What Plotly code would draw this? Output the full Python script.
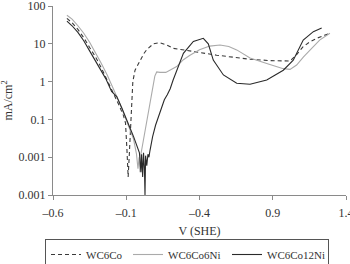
import plotly.graph_objects as go

# WC6Co (dashed)
v_co = [-0.505, -0.47, -0.43, -0.39, -0.35, -0.31, -0.27, -0.23, -0.19, -0.15, -0.12, -0.105,
        -0.095, -0.087, -0.08, -0.072, -0.065, -0.055, -0.04, -0.02, -0.006, 0.02, 0.04, 0.085,
        0.13, 0.176, 0.22, 0.29, 0.40, 0.517, 0.63, 0.745, 0.88, 1.018, 1.06, 1.106, 1.15, 1.2, 1.29]
i_co = [47, 36, 24, 14.5, 8, 4.5, 2.3, 1.1, 0.5, 0.24, 0.13, 0.08,
        0.015, 0.003, 0.01, 0.06, 0.3, 1.0, 2.0, 2.8, 3.7, 5.5, 7.0, 10.0,
        10.7, 9.3, 7.6, 6.8, 5.9, 5.0, 4.4, 3.9, 3.6, 3.5, 5.0, 8.3, 11, 14, 19]

# WC6Co6Ni (light grey)
v_ni6 = [-0.505, -0.47, -0.43, -0.39, -0.35, -0.31, -0.27, -0.23, -0.19, -0.15, -0.11, -0.08,
         -0.05, -0.03, -0.02, -0.012, -0.006, 0.0, 0.01, 0.025, 0.04, 0.062, 0.08, 0.095,
         0.108, 0.13, 0.17, 0.2, 0.244, 0.29, 0.335, 0.40, 0.47, 0.54, 0.60, 0.654, 0.745,
         0.859, 0.972, 1.018, 1.063, 1.11, 1.154, 1.22, 1.29]
i_ni6 = [57, 45, 30, 19, 11, 6, 3, 1.5, 0.7, 0.3, 0.12, 0.06,
         0.03, 0.012, 0.005, 0.01, 0.004, 0.012, 0.02, 0.04, 0.095, 0.3, 0.8, 1.4,
         1.8, 1.75, 1.75, 2.0, 2.5, 3.8, 5.0, 7.0, 8.7, 9.3, 8.5, 6.9, 4.2,
         3.0, 2.2, 2.1, 2.75, 4.5, 6.9, 12.5, 19]

# WC6Co12Ni (dark)
v_ni12 = [-0.505, -0.47, -0.43, -0.39, -0.35, -0.31, -0.28, -0.24, -0.20, -0.165, -0.13, -0.10,
          -0.075, -0.05, -0.03, -0.01, 0.0, 0.005, 0.012, 0.018, 0.024, 0.028, 0.032, 0.04,
          0.048, 0.055, 0.062, 0.08, 0.10, 0.12, 0.14, 0.16, 0.18, 0.20, 0.22, 0.244, 0.29, 0.358,
          0.426, 0.46, 0.494, 0.563, 0.654, 0.745, 0.859, 0.972, 1.04, 1.108, 1.177, 1.234]
i_ni12 = [40, 30, 20, 12, 6.5, 3.5, 2.4, 1.2, 0.55, 0.4, 0.2, 0.11,
          0.06, 0.035, 0.02, 0.013, 0.004, 0.012, 0.003, 0.013, 0.005, 0.001, 0.011, 0.006,
          0.012, 0.01, 0.015, 0.035, 0.07, 0.12, 0.2, 0.33, 0.45, 0.65, 1.1, 2.0, 5.6, 11.5,
          14, 10, 3.7, 1.5, 0.9, 0.85, 1.1, 2.0, 3.7, 12.6, 21, 26]

x_tickvals = [-0.6, -0.1, 0.4, 0.9, 1.4]
x_ticktext = ["\u20130.6", "\u20130.1", "\u20130.4", "0.9", "1.4"]
y_tickvals = [100, 10, 1, 0.1, 0.01, 0.001]
y_ticktext = ["100", "10", "1", "0.1", "0.001", "0.001"]

serif = "Liberation Serif, Times New Roman, serif"
txt = "#333333"

fig = go.Figure()
fig.add_trace(go.Scatter(x=v_co, y=i_co, mode="lines", name="WC6Co", legendwidth=37,
                         line=dict(color="#3a3a3a", width=1.1, dash="4px,3px")))
fig.add_trace(go.Scatter(x=v_ni6, y=i_ni6, mode="lines", name="WC6Co6Ni", legendwidth=54,
                         line=dict(color="#aaaaaa", width=1.1)))
fig.add_trace(go.Scatter(x=v_ni12, y=i_ni12, mode="lines", name="WC6Co12Ni", legendwidth=56,
                         line=dict(color="#2a2a2a", width=1.1)))

axis_common = dict(showgrid=False, zeroline=False, showline=True, linecolor="#8a8a8a",
                   linewidth=1, ticks="outside", ticklen=4, tickcolor="#8a8a8a",
                   ticklabeloverflow="allow", automargin=False,
                   tickfont=dict(family=serif, size=12, color=txt))

fig.update_layout(
    width=350, height=264,
    margin=dict(l=53, r=4, t=6, b=69, autoexpand=False),
    paper_bgcolor="white", plot_bgcolor="white",
    showlegend=True,
    legend=dict(orientation="h", x=45 / 350, xanchor="left", xref="container",
                y=1 - 239 / 264, yanchor="top", yref="container",
                bordercolor="#555555", borderwidth=1,
                font=dict(family=serif, size=11, color=txt),
                itemwidth=30, tracegroupgap=0),
    xaxis=dict(range=[-0.6, 1.4], tickvals=x_tickvals, ticktext=x_ticktext,
               ticklabelstandoff=3,
               title=dict(text="V (SHE)", font=dict(family=serif, size=12, color=txt),
                          standoff=7),
               **axis_common),
    yaxis=dict(type="log", range=[-3, 2], tickvals=y_tickvals, ticktext=y_ticktext,
               title=dict(text="mA/cm<sup>2</sup>", font=dict(family=serif, size=12, color=txt),
                          standoff=6),
               **axis_common),
)

fig.write_html("out.html")
